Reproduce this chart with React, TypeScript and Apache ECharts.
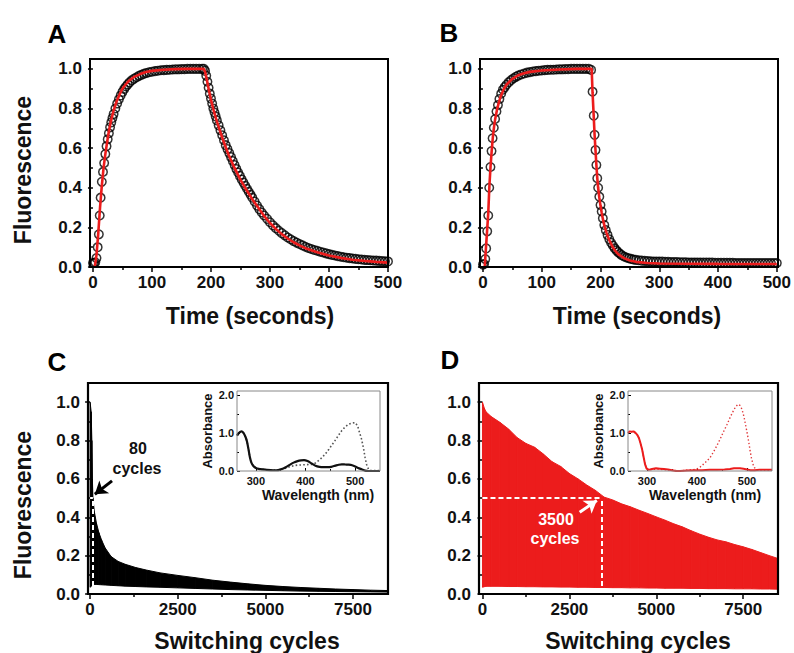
import React, { useEffect, useRef } from 'react';
import * as echarts from 'echarts';

const FONT = '"Liberation Sans", Arial, Helvetica, sans-serif';

// ---------- Panel A (time course, slow switcher) ----------
const aCircles: [number, number][] = [
  [0, 0.02], [2, 0.02], [4, 0.024], [6, 0.045], [8, 0.1], [10, 0.165], [11.5, 0.26], [13, 0.35], [15, 0.43], [17, 0.48],
  [19, 0.525], [21, 0.57], [23, 0.61], [25, 0.645], [27, 0.675], [29, 0.705], [31, 0.73], [33, 0.752], [35, 0.772], [38, 0.8],
  [41, 0.825], [44, 0.847], [47, 0.866], [50, 0.884], [53, 0.899], [56, 0.911], [59, 0.922], [62, 0.932], [66, 0.943], [70, 0.951],
  [74, 0.958], [78, 0.965], [82, 0.97], [86, 0.975], [90, 0.979], [95, 0.983], [100, 0.986], [105, 0.989], [110, 0.991], [115, 0.993],
  [120, 0.994], [125, 0.995], [130, 0.996], [135, 0.997], [140, 0.998], [145, 0.998], [150, 0.999], [155, 0.999], [160, 1.0], [165, 1.0],
  [170, 1.0], [175, 1.0], [180, 1.0], [185, 1.0], [188, 1.0],
  [190, 0.99], [192, 0.965], [194, 0.935], [196, 0.905], [198, 0.875], [200, 0.85], [202, 0.825], [204, 0.8], [206, 0.78], [208, 0.76],
  [210, 0.74], [213, 0.715], [216, 0.69], [219, 0.665], [222, 0.64], [225, 0.615], [228, 0.595], [231, 0.575], [234, 0.555], [237, 0.535],
  [240, 0.515], [243, 0.495], [246, 0.477], [249, 0.46], [252, 0.442], [255, 0.426], [258, 0.41], [261, 0.395], [264, 0.38], [267, 0.365],
  [270, 0.35], [274, 0.33], [278, 0.31], [282, 0.292], [286, 0.275], [290, 0.26], [295, 0.243], [300, 0.226], [305, 0.21], [310, 0.196],
  [315, 0.183], [320, 0.171], [325, 0.16], [330, 0.149], [335, 0.14], [340, 0.131], [345, 0.123], [350, 0.116], [355, 0.109], [360, 0.102],
  [365, 0.096], [370, 0.091], [375, 0.086], [380, 0.082], [385, 0.077], [390, 0.073], [395, 0.069], [400, 0.065], [405, 0.061], [410, 0.058],
  [415, 0.055], [420, 0.052], [425, 0.049], [430, 0.047], [435, 0.045], [440, 0.043], [445, 0.041], [450, 0.039], [455, 0.038], [460, 0.036],
  [465, 0.035], [470, 0.034], [475, 0.033], [480, 0.032], [485, 0.031], [490, 0.03], [495, 0.029], [500, 0.028],
];

const aFit: [number, number][] = [
  [3, 0], [6, 0.06], [9, 0.17], [12, 0.3], [15, 0.41], [18, 0.5], [21, 0.57], [24, 0.63], [27, 0.685], [30, 0.73],
  [35, 0.79], [40, 0.835], [45, 0.87], [50, 0.9], [55, 0.92], [60, 0.937], [70, 0.96], [80, 0.974], [90, 0.984], [100, 0.99],
  [120, 0.996], [140, 0.999], [160, 1.0], [188, 1.0], [190, 0.985], [193, 0.945], [196, 0.9], [200, 0.845], [205, 0.785], [210, 0.735],
  [215, 0.69], [220, 0.645], [230, 0.565], [240, 0.5], [250, 0.44], [260, 0.39], [270, 0.342], [280, 0.3], [290, 0.258], [300, 0.222],
  [310, 0.192], [320, 0.166], [330, 0.144], [340, 0.125], [350, 0.109], [360, 0.095], [380, 0.074], [400, 0.058], [420, 0.046], [440, 0.037],
  [460, 0.031], [480, 0.026], [500, 0.022],
];

// ---------- Panel B (time course, fast switcher) ----------
const bCircles: [number, number][] = [
  [0, 0.012], [2, 0.015], [4, 0.04], [5.5, 0.094], [7.3, 0.18], [9, 0.26], [10.7, 0.4], [12.8, 0.505], [14.6, 0.585], [16.4, 0.65],
  [18.5, 0.703], [20.7, 0.747], [23, 0.785], [25.5, 0.818], [28, 0.848], [31, 0.875], [34, 0.895], [37, 0.908], [40, 0.92], [44, 0.933],
  [48, 0.944], [52, 0.953], [56, 0.96], [60, 0.966], [65, 0.972], [70, 0.977], [75, 0.981], [80, 0.984], [85, 0.987], [90, 0.989],
  [95, 0.991], [100, 0.992], [105, 0.994], [110, 0.995], [115, 0.996], [120, 0.996], [125, 0.997], [130, 0.998], [135, 0.998], [140, 0.999],
  [145, 0.999], [150, 1.0], [155, 1.0], [160, 1.0], [165, 1.0], [170, 1.0], [175, 1.0], [180, 1.0], [184, 0.995],
  [186.5, 0.885], [188.5, 0.764], [190, 0.667], [191.5, 0.59], [193, 0.515], [194.5, 0.448], [196, 0.4], [198, 0.355], [200, 0.313], [202, 0.28],
  [204, 0.246], [206.5, 0.212], [209, 0.186], [212, 0.162], [215, 0.14], [218, 0.122], [221, 0.108], [224, 0.095], [227, 0.084], [230, 0.075],
  [233, 0.067], [236, 0.06], [240, 0.053], [244, 0.048], [248, 0.044], [252, 0.041], [256, 0.038], [260, 0.036], [265, 0.034], [270, 0.032],
  [275, 0.031], [280, 0.03], [285, 0.029], [290, 0.028], [295, 0.028], [300, 0.027], [305, 0.027], [310, 0.026], [315, 0.026], [320, 0.025],
  [325, 0.025], [330, 0.025], [335, 0.024], [340, 0.024], [345, 0.024], [350, 0.023], [355, 0.023], [360, 0.023], [365, 0.023], [370, 0.022],
  [375, 0.022], [380, 0.022], [385, 0.022], [390, 0.022], [395, 0.021], [400, 0.021], [405, 0.021], [410, 0.021], [415, 0.021], [420, 0.021],
  [425, 0.021], [430, 0.02], [435, 0.02], [440, 0.02], [445, 0.02], [450, 0.02], [455, 0.02], [460, 0.02], [465, 0.02], [470, 0.02],
  [475, 0.02], [480, 0.02], [485, 0.02], [490, 0.02], [495, 0.02], [500, 0.02],
];

const bFit: [number, number][] = [
  [3, 0], [5, 0.09], [7, 0.18], [9, 0.27], [11, 0.41], [13, 0.51], [15, 0.59], [17, 0.66], [19, 0.71], [21, 0.75],
  [24, 0.795], [27, 0.83], [30, 0.86], [35, 0.895], [40, 0.92], [50, 0.95], [60, 0.968], [70, 0.978], [80, 0.985], [100, 0.992],
  [130, 0.997], [160, 1.0], [185, 1.0], [186.5, 0.88], [188.5, 0.76], [190, 0.665], [191.5, 0.59], [193, 0.515], [194.5, 0.45], [196, 0.4],
  [198, 0.35], [200, 0.31], [202, 0.275], [204, 0.243], [207, 0.205], [210, 0.175], [215, 0.135], [220, 0.105], [225, 0.082], [230, 0.065],
  [240, 0.045], [250, 0.033], [260, 0.026], [280, 0.02], [300, 0.018], [400, 0.016], [500, 0.015],
];

// ---------- Panel C (switching fatigue, slow switcher) ----------
const cCycles = [0, 30, 50, 65, 80, 120, 180, 250, 330, 430, 600, 800, 1000, 1300, 1600, 2000, 2500, 3000, 3500, 4000, 4500, 5000, 5500, 6000, 6500, 7000, 7500, 8000, 8500];
const cUpper = [1.0, 0.95, 0.8, 0.6, 0.5, 0.43, 0.37, 0.32, 0.28, 0.24, 0.195, 0.17, 0.155, 0.138, 0.125, 0.11, 0.097, 0.085, 0.072, 0.062, 0.053, 0.045, 0.039, 0.034, 0.03, 0.026, 0.023, 0.02, 0.018];
const cLower = [0.035, 0.04, 0.045, 0.048, 0.05, 0.05, 0.05, 0.049, 0.048, 0.047, 0.045, 0.043, 0.041, 0.039, 0.037, 0.035, 0.032, 0.029, 0.026, 0.023, 0.021, 0.019, 0.017, 0.015, 0.014, 0.013, 0.012, 0.011, 0.01];
const cHalfCycles = 80;

// ---------- Panel D (switching fatigue, robust switcher) ----------
const dCycles = [0, 50, 100, 250, 500, 750, 1000, 1250, 1500, 1750, 2000, 2250, 2500, 2750, 3000, 3250, 3500, 3750, 4000, 4250, 4500, 4750, 5000, 5250, 5500, 5750, 6000, 6250, 6500, 6750, 7000, 7250, 7500, 7750, 8000, 8250, 8500];
const dUpper = [1.0, 0.97, 0.95, 0.925, 0.895, 0.86, 0.815, 0.785, 0.765, 0.73, 0.69, 0.665, 0.628, 0.6, 0.568, 0.54, 0.505, 0.49, 0.47, 0.455, 0.437, 0.42, 0.402, 0.385, 0.366, 0.35, 0.33, 0.312, 0.296, 0.282, 0.272, 0.258, 0.246, 0.232, 0.216, 0.2, 0.185];
const dLower = [0.035, 0.038, 0.04, 0.04, 0.04, 0.039, 0.039, 0.038, 0.038, 0.037, 0.037, 0.036, 0.036, 0.035, 0.035, 0.034, 0.034, 0.033, 0.033, 0.032, 0.032, 0.031, 0.031, 0.03, 0.03, 0.03, 0.029, 0.029, 0.028, 0.028, 0.028, 0.027, 0.027, 0.027, 0.026, 0.026, 0.025];
const dHalfCycles = 3420;

// ---------- Insets (absorbance spectra) ----------
const cInsetSolid: [number, number][] = [
  [262, 0.93], [266, 1.0], [271, 1.04], [275, 1.0], [279, 0.9], [282, 0.78], [285, 0.58], [288, 0.36], [291, 0.22], [295, 0.13],
  [300, 0.08], [306, 0.055], [312, 0.045], [322, 0.03], [335, 0.02], [345, 0.025], [352, 0.05], [360, 0.1], [368, 0.16], [376, 0.22],
  [384, 0.26], [391, 0.28], [397, 0.285], [404, 0.26], [412, 0.2], [420, 0.14], [428, 0.11], [436, 0.1], [444, 0.1], [452, 0.11],
  [460, 0.14], [467, 0.165], [473, 0.175], [480, 0.17], [487, 0.165], [494, 0.15], [500, 0.12], [506, 0.08], [513, 0.045], [520, 0.01],
  [527, 0.0], [540, 0.0], [550, 0.0],
];
const cInsetDotted: [number, number][] = [
  [262, 0.93], [266, 1.0], [271, 1.04], [275, 1.0], [279, 0.9], [282, 0.78], [285, 0.58], [288, 0.36], [291, 0.22], [295, 0.13],
  [300, 0.08], [306, 0.055], [312, 0.045], [322, 0.03], [335, 0.02], [345, 0.025], [352, 0.04], [360, 0.07], [368, 0.11], [376, 0.14],
  [384, 0.155], [392, 0.16], [400, 0.165], [406, 0.17], [412, 0.17], [420, 0.21], [427, 0.28], [433, 0.35], [440, 0.45], [447, 0.57],
  [453, 0.68], [459, 0.79], [466, 0.93], [473, 1.06], [480, 1.16], [487, 1.23], [494, 1.26], [500, 1.27], [505, 1.18], [509, 1.0],
  [513, 0.83], [517, 0.58], [520, 0.35], [523, 0.17], [527, 0.04], [532, 0.01], [550, 0.01],
];
const dInsetSolid: [number, number][] = [
  [262, 1.0], [265, 1.04], [269, 1.03], [273, 1.04], [277, 1.0], [281, 0.94], [284, 0.86], [287, 0.73], [290, 0.58], [293, 0.38],
  [296, 0.18], [299, 0.07], [303, 0.03], [310, 0.05], [318, 0.07], [326, 0.06], [334, 0.05], [342, 0.04], [350, 0.02], [358, 0.0],
  [366, 0.0], [380, 0.01], [395, 0.02], [410, 0.02], [425, 0.03], [440, 0.03], [455, 0.04], [466, 0.05], [474, 0.07], [480, 0.075],
  [486, 0.07], [493, 0.06], [500, 0.04], [507, 0.02], [515, 0.02], [525, 0.03], [535, 0.03], [550, 0.03],
];
const dInsetDotted: [number, number][] = [
  [262, 1.0], [265, 1.04], [269, 1.03], [273, 1.04], [277, 1.0], [281, 0.94], [284, 0.86], [287, 0.73], [290, 0.58], [293, 0.38],
  [296, 0.18], [299, 0.07], [303, 0.03], [310, 0.04], [320, 0.05], [330, 0.04], [340, 0.03], [350, 0.02], [360, 0.01], [370, 0.01],
  [380, 0.02], [390, 0.03], [399, 0.05], [406, 0.1], [413, 0.18], [420, 0.27], [426, 0.35], [433, 0.5], [440, 0.67], [446, 0.83],
  [453, 1.03], [460, 1.22], [466, 1.4], [472, 1.56], [477, 1.68], [482, 1.75], [486, 1.72], [490, 1.62], [494, 1.42], [497, 1.22],
  [500, 1.02], [503, 0.8], [506, 0.55], [509, 0.33], [513, 0.13], [517, 0.05], [522, 0.02], [535, 0.02], [550, 0.02],
];

// ---------- Tick values ----------
const timeTicks = [0, 100, 200, 300, 400, 500];
const timeMinor = [50, 150, 250, 350, 450];
const fluorTicks = [0, 0.2, 0.4, 0.6, 0.8, 1.0];
const fluorMinor = [0.1, 0.3, 0.5, 0.7, 0.9];
const cycleTicks = [0, 2500, 5000, 7500];
const cycleMinor = [1250, 3750, 6250];
const waveTicks = [300, 400, 500];
const waveMinor = [350, 450];
const absTicks = [0, 1, 2];
const absMinor = [0.5, 1.5];

const RED = '#ec1c1c';

const grids = [
  { left: 90, top: 59, width: 298, height: 208 },
  { left: 480, top: 59, width: 298, height: 208 },
  { left: 88, top: 383, width: 300, height: 211 },
  { left: 479, top: 383, width: 299, height: 211 },
  { left: 237, top: 391, width: 143, height: 80 },
  { left: 628, top: 391, width: 144, height: 80 },
];

type AxOpts = {
  fmt: (v: number) => string;
  fs: number;
  margin: number;
  tick: number;
  minorTick: number;
  inside: boolean;
  tickW: number;
};

function axisPair(position: string, gridIndex: number, min: number, max: number, major: number[], minor: number[], o: AxOpts) {
  const common = {
    type: 'value',
    gridIndex,
    min,
    max,
    position,
    axisLine: { show: false },
    splitLine: { show: false },
  };
  return [
    {
      ...common,
      axisTick: { show: true, customValues: major, length: o.tick, inside: o.inside, lineStyle: { color: '#000', width: o.tickW } },
      axisLabel: {
        show: true,
        customValues: major,
        formatter: (v: number) => o.fmt(v),
        fontSize: o.fs,
        fontWeight: 'bold',
        fontFamily: FONT,
        color: '#111',
        margin: o.margin,
      },
    },
    {
      ...common,
      axisTick: { show: true, customValues: minor, length: o.minorTick, inside: o.inside, lineStyle: { color: '#000', width: o.tickW } },
      axisLabel: { show: false },
    },
  ];
}

const fmt1 = (v: number) => v.toFixed(1);
const fmt0 = (v: number) => String(Math.round(v));
const mainX: AxOpts = { fmt: fmt0, fs: 17, margin: 7, tick: 5, minorTick: 3, inside: false, tickW: 1.5 };
const mainY: AxOpts = { fmt: fmt1, fs: 17, margin: 8, tick: 5, minorTick: 3, inside: false, tickW: 1.5 };
const insetX: AxOpts = { fmt: fmt0, fs: 11, margin: 4, tick: 3, minorTick: 2, inside: true, tickW: 1 };
const insetY: AxOpts = { fmt: fmt1, fs: 11, margin: 3, tick: 3, minorTick: 2, inside: true, tickW: 1 };

function text(x: number, y: number, s: string, size: number, color = '#000', rotation = 0) {
  return {
    type: 'text',
    x,
    y,
    rotation,
    z: 100,
    style: {
      text: s,
      fontSize: size,
      fontWeight: 'bold',
      fontFamily: FONT,
      fill: color,
      align: 'center',
      verticalAlign: 'middle',
      textAlign: 'center',
      textVerticalAlign: 'middle',
    },
  };
}

function frame(g: { left: number; top: number; width: number; height: number }, color: string, w: number) {
  return {
    type: 'rect',
    z: 100,
    shape: { x: g.left, y: g.top, width: g.width, height: g.height },
    style: { fill: 'none', stroke: color, lineWidth: w },
    silent: true,
  };
}

// Filled band between a lower and an upper envelope, drawn through the axis scales (api.coord).
function bandSeries(ax: number, xs: number[], lo: number[], up: number[], color: string, markLine: any) {
  return {
    type: 'custom',
    xAxisIndex: ax,
    yAxisIndex: ax,
    clip: true,
    z: 2,
    data: xs.map((x, i) => [x, lo[i], up[i]]),
    encode: { x: 0, y: [1, 2] },
    renderItem: (params: any, api: any) => {
      const i = params.dataIndex;
      if (i >= xs.length - 1) return { type: 'group', children: [] };
      const pts = [
        api.coord([xs[i], lo[i]]),
        api.coord([xs[i], up[i]]),
        api.coord([xs[i + 1], up[i + 1]]),
        api.coord([xs[i + 1], lo[i + 1]]),
      ];
      return {
        type: 'polygon',
        shape: { points: pts },
        style: { fill: color, stroke: color, lineWidth: 1 },
      };
    },
    markLine,
  };
}

function buildOption() {
  const xAxis = [
    ...axisPair('bottom', 0, -5, 500, timeTicks, timeMinor, mainX),
    ...axisPair('bottom', 1, -5, 500, timeTicks, timeMinor, mainX),
    ...axisPair('bottom', 2, -60, 8500, cycleTicks, cycleMinor, mainX),
    ...axisPair('bottom', 3, -100, 8500, cycleTicks, cycleMinor, mainX),
    ...axisPair('bottom', 4, 262, 550, waveTicks, waveMinor, insetX),
    ...axisPair('bottom', 5, 262, 550, waveTicks, waveMinor, insetX),
  ];
  const yAxis = [
    ...axisPair('left', 0, 0, 1.05, fluorTicks, fluorMinor, mainY),
    ...axisPair('left', 1, 0, 1.05, fluorTicks, fluorMinor, mainY),
    ...axisPair('left', 2, 0, 1.1, fluorTicks, fluorMinor, mainY),
    ...axisPair('left', 3, 0, 1.1, fluorTicks, fluorMinor, mainY),
    ...axisPair('left', 4, 0, 2.1, absTicks, absMinor, insetY),
    ...axisPair('left', 5, 0, 2.1, absTicks, absMinor, insetY),
  ];

  const circleStyle = { color: 'rgba(0,0,0,0)', borderColor: '#000', borderWidth: 1.5 };
  const fitLine = (data: [number, number][], ax: number) => ({
    type: 'line',
    xAxisIndex: ax,
    yAxisIndex: ax,
    data,
    symbol: 'none',
    lineStyle: { color: RED, width: 2.6 },
    z: 3,
  });
  const scatter = (data: [number, number][], ax: number) => ({
    type: 'scatter',
    xAxisIndex: ax,
    yAxisIndex: ax,
    data,
    symbol: 'circle',
    symbolSize: 8.5,
    itemStyle: circleStyle,
    z: 2,
  });

  const dashed = (color: string) => ({ color, type: [5, 3], width: 2 });

  const cMarks = {
    silent: true,
    symbol: 'none',
    label: { show: false },
    animation: false,
    z: 5,
    data: [
      [{ coord: [0, 0.5], lineStyle: dashed('#fff') }, { coord: [cHalfCycles, 0.5] }],
      [{ coord: [cHalfCycles, 0], lineStyle: dashed('#fff') }, { coord: [cHalfCycles, 0.5] }],
      [
        { coord: [625, 0.59], symbol: 'none', lineStyle: { color: '#000', width: 3, type: 'solid' } },
        { coord: [135, 0.52], symbol: 'arrow', symbolSize: 12 },
      ],
    ],
  };
  const dMarks = {
    silent: true,
    symbol: 'none',
    label: { show: false },
    animation: false,
    z: 5,
    data: [
      [{ coord: [0, 0.5], lineStyle: dashed('#fff') }, { coord: [dHalfCycles, 0.5] }],
      [{ coord: [dHalfCycles, 0], lineStyle: dashed('#fff') }, { coord: [dHalfCycles, 0.5] }],
      [
        { coord: [2795, 0.426], symbol: 'none', lineStyle: { color: '#fff', width: 3, type: 'solid' } },
        { coord: [3290, 0.488], symbol: 'arrow', symbolSize: 12 },
      ],
    ],
  };

  const series: any[] = [
    scatter(aCircles, 0),
    fitLine(aFit, 0),
    scatter(bCircles, 2),
    fitLine(bFit, 2),
    bandSeries(4, cCycles, cLower, cUpper, '#000', cMarks),
    bandSeries(6, dCycles, dLower, dUpper, RED, dMarks),
    {
      type: 'line',
      xAxisIndex: 8,
      yAxisIndex: 8,
      data: cInsetDotted,
      symbol: 'none',
      lineStyle: { color: '#555', width: 1.6, type: [1.6, 2.2] },
      z: 3,
    },
    {
      type: 'line',
      xAxisIndex: 8,
      yAxisIndex: 8,
      data: cInsetSolid,
      symbol: 'none',
      smooth: 0.3,
      lineStyle: { color: '#111', width: 2.2 },
      z: 4,
    },
    {
      type: 'line',
      xAxisIndex: 10,
      yAxisIndex: 10,
      data: dInsetDotted,
      symbol: 'none',
      lineStyle: { color: '#e0383a', width: 1.4, type: [1.4, 2.2] },
      z: 3,
    },
    {
      type: 'line',
      xAxisIndex: 10,
      yAxisIndex: 10,
      data: dInsetSolid,
      symbol: 'none',
      lineStyle: { color: RED, width: 2 },
      z: 4,
    },
  ];

  const graphic: any[] = [
    frame(grids[0], '#000', 2),
    frame(grids[1], '#000', 2),
    frame(grids[2], '#000', 2.2),
    frame(grids[3], '#000', 2.2),
    frame(grids[4], '#888', 1),
    frame(grids[5], '#888', 1),
    text(57, 34, 'A', 26),
    text(449, 33, 'B', 26),
    text(57, 362, 'C', 26),
    text(450, 360, 'D', 26),
    text(23, 170, 'Fluorescence', 23, '#111', Math.PI / 2),
    text(23, 505, 'Fluorescence', 23, '#111', Math.PI / 2),
    text(250, 316, 'Time (seconds)', 23, '#111'),
    text(637, 316, 'Time (seconds)', 23, '#111'),
    text(247, 641, 'Switching cycles', 23, '#111'),
    text(638, 641, 'Switching cycles', 23, '#111'),
    text(138, 448, '80', 16, '#111'),
    text(137, 468, 'cycles', 16, '#111'),
    text(556, 519, '3500', 16, '#fff'),
    text(555, 538, 'cycles', 16, '#fff'),
    text(207, 431, 'Absorbance', 13, '#111', Math.PI / 2),
    text(598, 431, 'Absorbance', 13, '#111', Math.PI / 2),
    text(318, 495, 'Wavelength (nm)', 14, '#111'),
    text(705, 495, 'Wavelength (nm)', 14, '#111'),
  ];

  return {
    animation: false,
    backgroundColor: '#fff',
    grid: grids.map((g) => ({ ...g, show: false, containLabel: false })),
    xAxis,
    yAxis,
    series,
    graphic,
  };
}

export default function App() {
  const ref = useRef<HTMLDivElement>(null);
  useEffect(() => {
    if (!ref.current) return;
    const chart = echarts.init(ref.current, null, { renderer: 'svg' });
    chart.setOption(buildOption() as any);
    return () => chart.dispose();
  }, []);
  return (
    <div
      ref={ref}
      style={{ position: 'fixed', left: 0, top: 0, width: 794, height: 653, background: '#fff' }}
    />
  );
}
